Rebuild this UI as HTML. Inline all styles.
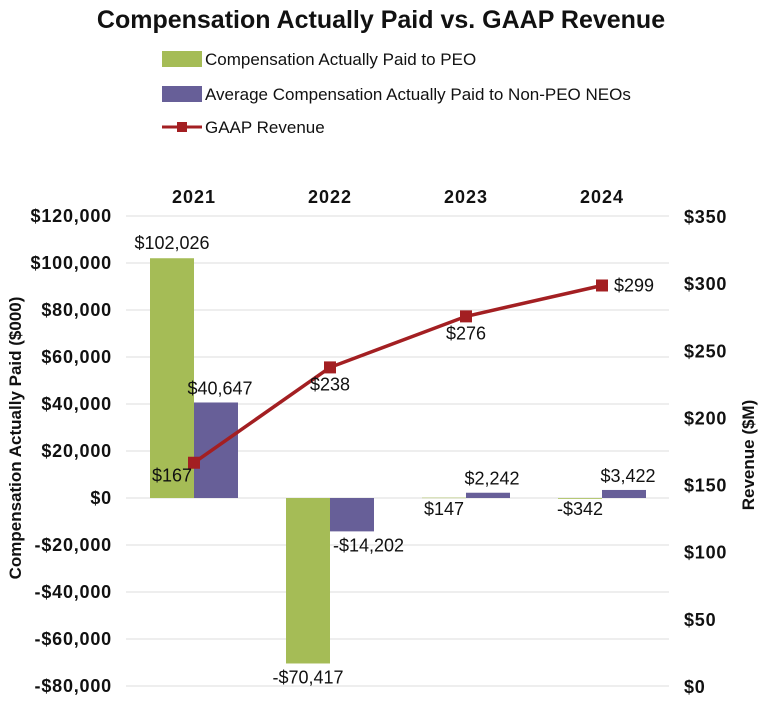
<!DOCTYPE html>
<html><head><meta charset="utf-8"><style>
body{margin:0;background:#fff;width:762px;height:698px;overflow:hidden}
svg text{font-family:"Liberation Sans",sans-serif;}
</style></head><body>
<svg id="chart" width="762" height="698" xmlns="http://www.w3.org/2000/svg">
<text x="381" y="28" text-anchor="middle" font-size="25" font-weight="bold" fill="#111">Compensation Actually Paid vs. GAAP Revenue</text>
<g>
<rect x="162" y="51" width="40" height="16" fill="#a5bc56"/>
<text x="205" y="65" font-size="17" fill="#111">Compensation Actually Paid to PEO</text>
<rect x="162" y="86" width="40" height="16" fill="#675f98"/>
<text x="205" y="100" font-size="17" fill="#111">Average Compensation Actually Paid to Non-PEO NEOs</text>
<line x1="162" y1="127" x2="202" y2="127" stroke="#a31f22" stroke-width="3"/>
<rect x="177" y="122" width="10" height="10" fill="#a31f22"/>
<text x="205" y="133" font-size="17" fill="#111">GAAP Revenue</text>
</g>
<text transform="translate(21,438) rotate(-90)" text-anchor="middle" font-size="17" font-weight="bold" fill="#111">Compensation Actually Paid ($000)</text>
<text transform="translate(754,455) rotate(-90)" text-anchor="middle" font-size="17" font-weight="bold" fill="#111">Revenue ($M)</text>
<g id="plot"></g>
</svg>
<script>
const categories=["2021","2022","2023","2024"];
const peoValues=[102026,-70417,147,-342];
const neoValues=[40647,-14202,2242,3422];
const revenueValues=[167,238,276,299];
const leftTicks=[120000,100000,80000,60000,40000,20000,0,-20000,-40000,-60000,-80000];
const rightTicks=[350,300,250,200,150,100,50,0];
const peoLabels=["$102,026","-$70,417","$147","-$342"];
const neoLabels=["$40,647","-$14,202","$2,242","$3,422"];
const revLabels=["$167","$238","$276","$299"];

const NS="http://www.w3.org/2000/svg";
const g=document.getElementById('plot');
const yL=v=>498-(v/20000)*47;
const yR=v=>687-v*(470/350);
const xC=i=>194+i*136;
const bw=44;
function mk(tag,attrs,txt){const e=document.createElementNS(NS,tag);for(const k in attrs)e.setAttribute(k,attrs[k]);if(txt!==undefined)e.textContent=txt;g.appendChild(e);return e;}
function fmt(v){const s=Math.abs(v).toLocaleString('en-US');return (v<0?'-$':'$')+s;}
leftTicks.forEach(t=>{
  const l=mk('line',{x1:126,x2:669,y1:yL(t),y2:yL(t),stroke:'#dcdcdc','stroke-width':1});
  
  
  const tx=mk('text',{x:112,y:yL(t)+6,'text-anchor':'end','font-size':18,'font-weight':'bold',fill:'#111','letter-spacing':0.8},fmt(t));
  
  
});
rightTicks.forEach(t=>{
  const tx=mk('text',{x:684,y:yR(t)+6,'font-size':18,'font-weight':'bold',fill:'#111','letter-spacing':0.8},'$'+t);
  
  
});
categories.forEach((c,i)=>{
  const tx=mk('text',{x:xC(i),y:203,'text-anchor':'middle','font-size':18,'font-weight':'bold',fill:'#111','letter-spacing':1},c);
  
  
  const p=peoValues[i],n=neoValues[i];
  const b1=mk('rect',{x:xC(i)-bw,y:Math.min(yL(p),yL(0)),width:bw,height:Math.max(Math.abs(yL(p)-yL(0)),0.5),fill:'#a5bc56'});
  
  
  const b2=mk('rect',{x:xC(i),y:Math.min(yL(n),yL(0)),width:bw,height:Math.max(Math.abs(yL(n)-yL(0)),0.5),fill:'#675f98'});
  
  
  const small=Math.abs(p)<1000;
  const py=small?yL(0)+17:(p>=0?yL(p)-9:yL(p)+20);
  const pl=mk('text',{x:xC(i)-bw/2,y:py,'text-anchor':'middle','font-size':18,fill:'#111'},peoLabels[i]);
  
  
  let nl;
  if(n>=0){nl=mk('text',{x:xC(i)+bw/2+4,y:yL(n)-8,'text-anchor':'middle','font-size':18,fill:'#111'},neoLabels[i]);}
  else {nl=mk('text',{x:xC(i)+3,y:yL(n)+20,'text-anchor':'start','font-size':18,fill:'#111'},neoLabels[i]);}
  
  
});
const pts=revenueValues.map((v,i)=>xC(i)+','+yR(v)).join(' ');
const pl=mk('polyline',{points:pts,fill:'none',stroke:'#a31f22','stroke-width':3.5});


revenueValues.forEach((v,i)=>{
  const m=mk('rect',{x:xC(i)-6,y:yR(v)-6,width:12,height:12,fill:'#a31f22'});
  
  
  let lx,ly,anc;
  if(i===0){lx=xC(i)-2;ly=yR(v)+19;anc='end';}
  else if(i===3){lx=xC(i)+12;ly=yR(v)+6;anc='start';}
  else {lx=xC(i);ly=yR(v)+23;anc='middle';}
  const t=mk('text',{x:lx,y:ly,'text-anchor':anc,'font-size':18,fill:'#111'},revLabels[i]);
  
  
});
</script>
</body></html>
